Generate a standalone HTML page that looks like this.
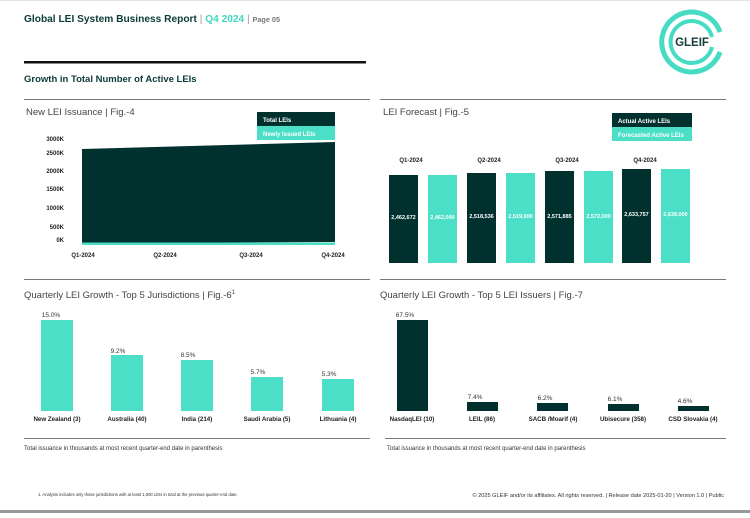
<!DOCTYPE html>
<html><head><meta charset="utf-8"><style>
body{margin:0;background:#fff;}
svg text{font-family:"Liberation Sans",sans-serif;}
</style></head><body>
<svg width="750" height="513" viewBox="0 0 750 513" xmlns="http://www.w3.org/2000/svg">
<rect width="750" height="513" fill="#fff"/>
<rect x="0" y="0" width="750" height="1" fill="#e5e5e5"/>
<text x="24" y="22" font-size="10.5" font-weight="bold" fill="#0b3b38" textLength="256" lengthAdjust="spacingAndGlyphs">Global LEI System Business Report <tspan fill="#999" font-weight="normal">|</tspan> <tspan fill="#3fd6bd">Q4 2024</tspan> <tspan fill="#999" font-weight="normal">|</tspan> <tspan fill="#777" font-size="7.5">Page 05</tspan></text>
<!-- logo -->
<g fill="none" stroke="#46dcc3">
<path d="M720,32 A30,30 0 1 0 720,52" stroke-width="5"/>
<path d="M712,37 A21,21 0 1 0 712,47" stroke-width="4"/>
</g>
<text x="692" y="46" font-size="11.5" font-weight="bold" fill="#153b3a" text-anchor="middle">GLEIF</text>
<rect x="24" y="61" width="342" height="2.5" fill="#111"/>
<text x="24" y="82" font-size="9.5" font-weight="bold" fill="#0b3b38">Growth in Total Number of Active LEIs</text>
<rect x="24" y="99" width="346" height="1" fill="#777"/>
<rect x="380" y="99" width="346" height="1" fill="#777"/>
<!-- Fig 4 -->
<text x="26" y="115" font-size="9.5" fill="#444">New LEI Issuance | Fig.-4</text>
<rect x="257" y="112" width="78" height="14" fill="#00312f"/>
<rect x="257" y="126" width="78" height="14" fill="#4adfc6"/>
<text x="263" y="122" font-size="6" font-weight="bold" fill="#fff">Total LEIs</text>
<text x="263" y="136" font-size="6" font-weight="bold" fill="#fff">Newly Issued LEIs</text>
<g font-size="6" font-weight="bold" fill="#222" text-anchor="end">
<text x="64" y="141">3000K</text><text x="64" y="155">2500K</text><text x="64" y="173">2000K</text>
<text x="64" y="191">1500K</text><text x="64" y="210">1000K</text><text x="64" y="229">500K</text><text x="64" y="242">0K</text>
</g>
<polygon points="82,149 335,142 335,242 82,243" fill="#00312f"/>
<rect x="82" y="242.5" width="253" height="2.5" fill="#4adfc6"/>
<g font-size="6" font-weight="bold" fill="#222" text-anchor="middle">
<text x="83" y="257">Q1-2024</text><text x="165" y="257">Q2-2024</text><text x="251" y="257">Q3-2024</text><text x="333" y="257">Q4-2024</text>
</g>
<!-- Fig 5 -->
<text x="383" y="115" font-size="9.5" fill="#444">LEI Forecast | Fig.-5</text>
<rect x="612" y="113" width="80" height="14" fill="#00312f"/>
<rect x="612" y="127" width="80" height="14" fill="#4adfc6"/>
<text x="618" y="123" font-size="6" font-weight="bold" fill="#fff">Actual Active LEIs</text>
<text x="618" y="137" font-size="6" font-weight="bold" fill="#fff">Forecasted Active LEIs</text>
<g font-size="6" font-weight="bold" fill="#222" text-anchor="middle">
<text x="411" y="162">Q1-2024</text><text x="489" y="162">Q2-2024</text><text x="567" y="162">Q3-2024</text><text x="645" y="162">Q4-2024</text>
</g>
<rect x="389" y="175" width="29" height="88" fill="#00312f"/>
<rect x="428" y="175" width="29" height="88" fill="#4adfc6"/>
<rect x="467" y="173" width="29" height="90" fill="#00312f"/>
<rect x="506" y="173" width="29" height="90" fill="#4adfc6"/>
<rect x="545" y="171" width="29" height="92" fill="#00312f"/>
<rect x="584" y="171" width="29" height="92" fill="#4adfc6"/>
<rect x="622" y="169" width="29" height="94" fill="#00312f"/>
<rect x="661" y="169" width="29" height="94" fill="#4adfc6"/>
<g font-size="5.5" font-weight="bold" fill="#fff" text-anchor="middle">
<text x="403.5" y="219">2,462,672</text><text x="442.5" y="219">2,462,000</text>
<text x="481.5" y="218">2,518,536</text><text x="520.5" y="218">2,519,000</text>
<text x="559.5" y="218">2,571,885</text><text x="598.5" y="218">2,572,000</text>
<text x="636.5" y="216">2,633,757</text><text x="675.5" y="216">2,638,000</text>
</g>
<rect x="24" y="279" width="346" height="1" fill="#777"/>
<rect x="380" y="279" width="346" height="1" fill="#777"/>
<!-- Fig 6 -->
<text x="24" y="298" font-size="9.5" fill="#444">Quarterly LEI Growth - Top 5 Jurisdictions | Fig.-6<tspan font-size="6" dy="-4">1</tspan></text>
<g fill="#4adfc6">
<rect x="41" y="320" width="32" height="91"/><rect x="111" y="355" width="32" height="56"/>
<rect x="181" y="360" width="32" height="51"/><rect x="251" y="377" width="32" height="34"/>
<rect x="322" y="379" width="32" height="32"/>
</g>
<g font-size="6.5" fill="#333" text-anchor="middle">
<text x="51" y="317">15.0%</text><text x="118" y="353">9.2%</text><text x="188" y="357">8.5%</text>
<text x="258" y="374">5.7%</text><text x="329" y="376">5.3%</text>
</g>
<g font-size="6.2" font-weight="bold" fill="#222" text-anchor="middle">
<text x="57" y="421">New Zealand (3)</text><text x="127" y="421">Australia (40)</text><text x="197" y="421">India (214)</text>
<text x="267" y="421">Saudi Arabia (5)</text><text x="338" y="421">Lithuania (4)</text>
</g>
<rect x="24" y="438" width="346" height="1" fill="#777"/>
<text x="24" y="450" font-size="6" fill="#333">Total issuance in thousands at most recent quarter-end date in parenthesis</text>
<!-- Fig 7 -->
<text x="380" y="298" font-size="9.5" fill="#444">Quarterly LEI Growth - Top 5 LEI Issuers | Fig.-7</text>
<g fill="#00312f">
<rect x="397" y="320" width="31" height="91"/><rect x="467" y="402" width="31" height="9"/>
<rect x="537" y="403" width="31" height="8"/><rect x="608" y="404" width="31" height="7"/>
<rect x="678" y="406" width="31" height="5"/>
</g>
<g font-size="6.5" fill="#333" text-anchor="middle">
<text x="405" y="317">67.5%</text><text x="475" y="399">7.4%</text><text x="545" y="400">6.2%</text>
<text x="615" y="401">6.1%</text><text x="685" y="403">4.6%</text>
</g>
<g font-size="6.2" font-weight="bold" fill="#222" text-anchor="middle">
<text x="412" y="421">NasdaqLEI (10)</text><text x="482" y="421">LEIL (86)</text><text x="553" y="421">SACB /Moarif (4)</text>
<text x="623" y="421">Ubisecure (358)</text><text x="693" y="421">CSD Slovakia (4)</text>
</g>
<rect x="385" y="438" width="341" height="1" fill="#777"/>
<text x="387" y="450" font-size="6" fill="#333">Total issuance in thousands at most recent quarter-end date in parenthesis</text>
<text x="38" y="496" font-size="4.2" fill="#333">1. Analysis includes only those jurisdictions with at least 1,000 LEIs in total at the previous quarter-end date.</text>
<text x="724" y="497" font-size="5.6" fill="#333" text-anchor="end">© 2025 GLEIF and/or its affiliates. All rights reserved. | Release date 2025-01-20 | Version 1.0 | Public</text>
<rect x="0" y="510" width="750" height="3" fill="#999"/>
</svg>
</body></html>
